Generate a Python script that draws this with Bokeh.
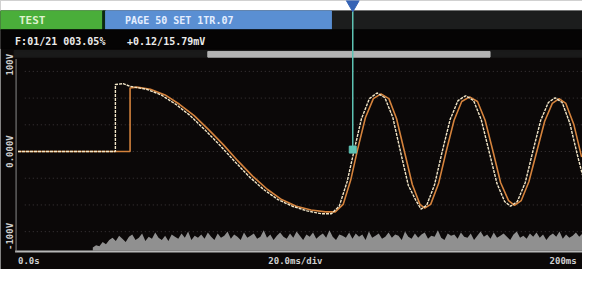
import numpy as np
from math import pi
from bokeh.plotting import figure
from bokeh.models import Range1d, Label
from bokeh.embed import file_html
from bokeh.resources import INLINE

# ---------------- data ----------------
white_t = [0, 34.5, 34.5, 37.2, 39.7, 45.5, 50.7, 55.9, 61.0, 66.2, 71.4, 76.6, 81.7, 86.9,
           92.1, 97.2, 102.4, 107.6, 111.0, 113.8, 116.6, 119.0, 121.7, 124.5, 127.2, 130.0,
           132.8, 135.5, 138.3, 141.0, 142.8, 144.8, 147.6, 150.3, 153.1, 155.9, 158.6, 161.4,
           164.1, 166.9, 169.7, 172.4, 174.5, 176.9, 179.7, 182.4, 185.2, 187.9, 190.3, 192.8,
           195.5, 198.3, 200.0]
white_v = [0, 0, 62.7, 63.6, 61.0, 58.3, 53.0, 44.2, 33.6, 20.3, 6.2, -8.8, -23.0, -35.3,
           -45.0, -51.2, -55.6, -58.3, -58.3, -51.2, -28.3, 0, 30.9, 49.5, 54.8, 50.3,
           31.8, 0, -31.8, -45.9, -53.9, -50.3, -30.9, 0, 30.0, 47.7, 52.2, 47.7,
           30.0, 0, -30.0, -46.8, -51.2, -46.8, -29.2, 0, 29.2, 45.9, 50.3, 45.9,
           26.5, -4.4, -22.0]

orange_t = [0, 39.7, 39.7, 42.1, 46.9, 52.1, 57.2, 62.4, 67.6, 72.8, 77.9, 83.1, 88.3,
            93.4, 98.6, 103.8, 109.0, 112.4, 115.2, 117.9, 120.3, 123.1, 125.9, 128.6,
            131.4, 134.1, 136.9, 139.7, 142.4, 144.1, 146.2, 149.0, 151.7, 154.5, 157.2,
            160.0, 162.8, 165.5, 168.3, 171.0, 173.8, 175.9, 178.3, 181.0, 183.8, 186.6,
            189.3, 191.7, 194.1, 196.9, 199.7]
orange_v = [0, 0, 59.4, 60.3, 58.3, 53.0, 44.2, 33.6, 20.3, 6.2, -8.8, -23.0, -35.3,
            -45.0, -51.2, -54.8, -56.5, -56.5, -49.5, -26.5, 1.8, 31.8, 49.5, 53.9,
            49.5, 30.9, 0, -30.9, -49.5, -53.0, -49.5, -30.0, 0, 29.2, 46.8,
            51.2, 46.8, 29.2, 0, -29.2, -45.9, -50.3, -45.9, -28.3, 0, 28.3,
            45.0, 49.5, 45.0, 25.6, -5.3]

noise_h = [3, 5, 4, 8, 6, 10, 12, 9, 14, 11, 8, 13, 15, 10, 12, 16, 9, 13, 11, 17, 12, 10, 14,
           9, 15, 13, 11, 16, 12, 18, 10, 14, 12, 15, 11, 17, 13, 10, 16, 12, 14, 18, 11, 15,
           13, 10, 17, 12, 14, 16, 11, 13, 19, 12, 15, 10, 14, 17, 13, 11, 16, 12, 18, 14, 10,
           15, 13, 17, 11, 14, 16, 12, 19, 13, 10, 15, 14, 12, 17, 11, 16, 13, 15, 10, 18, 12,
           14, 16, 11, 13, 17, 12, 15, 14, 10, 18, 13, 11, 16, 12, 15, 17, 11, 14, 13, 19, 12,
           10, 16, 14, 15, 11, 17, 13, 12, 16, 10, 14, 18, 13, 15, 11, 17, 12, 14, 16, 13, 10,
           15, 18, 12, 14, 11, 16, 13, 17, 12, 15, 10, 14, 16, 13, 18, 11, 15, 12, 14, 17, 13, 16]
noise_t_start, noise_t_end = 26.5, 200.0

grid_v = [-75, -50, -25, 0, 25, 50, 75]
cursor_t = 118.6
cursor_v = 1.8

title_text = "TEST"
page_text = "PAGE 50 SET 1TR.07"
status_left = "F:01/21 003.05%"
status_right = "+0.12/15.79mV"
y_labels = ["100V", "0.000V", "-100V"]
x_labels = ["0.0s", "20.0ms/div", "200ms"]

# ---------------- layout helpers ----------------
W, H = 582, 269
SX = W / 598.0
SY = H / 285.0


def fx(x):
    return x * SX


def fy(y):
    return y * SY


T_SPAN = 200.0
T0 = fx(18)
px_per_t = (fx(598) - T0) / T_SPAN
t_range = Range1d(-T0 / px_per_t, (W - T0) / px_per_t)
V_PER_REF_PX = 25.0 / 28.3
v_range = Range1d((160 - 285) * V_PER_REF_PX, 160 * V_PER_REF_PX)


def vref(y):
    return (160 - y) * V_PER_REF_PX


BG = "#0b0808"
p = figure(width=W, height=H, x_range=Range1d(0, W), y_range=Range1d(H, 0),
           output_backend="svg", toolbar_location=None, min_border=0,
           x_axis_location=None, y_axis_location=None,
           background_fill_color=BG, border_fill_color=BG, outline_line_color=None)
p.grid.visible = False
p.extra_x_ranges = {"t": t_range}
p.extra_y_ranges = {"v": v_range}

# header / screen chrome
p.quad(left=0, right=W, top=0, bottom=fy(11), color="white")
p.quad(left=0, right=W, top=fy(11), bottom=fy(31), color="#1c1d1d")
p.quad(left=0, right=fx(105), top=fy(11), bottom=fy(31), color="#4aae3a")
p.quad(left=fx(105), right=fx(108), top=fy(11), bottom=fy(31), color="#0d2a12")
p.quad(left=fx(108), right=fx(340), top=fy(11), bottom=fy(31), color="#5a8fd3")
p.quad(left=0, right=W, top=fy(31), bottom=fy(51), color="#050404")
p.quad(left=fx(14), right=W, top=fy(53), bottom=fy(60), color="#1a1a1a")
p.quad(left=fx(213), right=fx(503), top=fy(54), bottom=fy(60), color="#b4b4b4")

mono = "DejaVu Sans Mono"
p.add_layout(Label(x=fx(19), y=fy(21), text=title_text, text_font=mono, text_font_style="bold",
                   text_font_size="11px", text_color="#dff2cf", text_baseline="middle"))
p.add_layout(Label(x=fx(128), y=fy(21), text=page_text, text_font=mono, text_font_style="bold",
                   text_font_size="10px", text_color="#e4eeff", text_baseline="middle"))
p.add_layout(Label(x=fx(15), y=fy(43), text=status_left, text_font=mono, text_font_style="bold",
                   text_font_size="10px", text_color="#ececec", text_baseline="middle"))
p.add_layout(Label(x=fx(130), y=fy(43), text=status_right, text_font=mono, text_font_style="bold",
                   text_font_size="10px", text_color="#ececec", text_baseline="middle"))

# grid
p.segment(x0=[2.4] * len(grid_v), x1=[T_SPAN] * len(grid_v), y0=grid_v, y1=grid_v,
          x_range_name="t", y_range_name="v", line_color="#3e383b", line_dash="1 3", line_width=1)

# noise band
base_v = vref(265)
noise_t = np.linspace(noise_t_start, noise_t_end, len(noise_h))
p.varea(x=noise_t, y1=[base_v] * len(noise_h), y2=[base_v + h for h in noise_h],
        x_range_name="t", y_range_name="v", fill_color="#a8a8a8", fill_alpha=0.85)

# frame lines
p.segment(x0=fx(15), y0=fy(266), x1=fx(598), y1=fy(266), line_color="#b8b8b8", line_width=2)
p.segment(x0=fx(16), y0=fy(62), x1=fx(16), y1=fy(266), line_color="#8a8a8a", line_width=1)

# traces
p.line(orange_t, orange_v, x_range_name="t", y_range_name="v", line_color="#d4823c", line_width=1.6)
p.line(white_t, white_v, x_range_name="t", y_range_name="v", line_color="#f2e6c8", line_width=1.4,
       line_dash="3 1")

# cursor
p.segment(x0=[cursor_t], x1=[cursor_t], y0=[vref(8)], y1=[cursor_v],
          x_range_name="t", y_range_name="v", line_color="#5ec3b4", line_width=1.5)
p.scatter([cursor_t], [cursor_v], marker="square", size=7, color="#5ec3b4",
          x_range_name="t", y_range_name="v")
p.scatter([cursor_t], [vref(4)], marker="inverted_triangle", size=13, color="#3563b5",
          x_range_name="t", y_range_name="v")

# axis texts
for txt, ry in zip(y_labels, [68, 160, 250]):
    p.add_layout(Label(x=fx(10), y=fy(ry), text=txt, angle=pi / 2, text_align="center",
                       text_baseline="middle", text_font=mono, text_font_style="bold",
                       text_font_size="9px", text_color="#d0d0d0"))
for txt, rx, al in zip(x_labels, [18, 303, 592], ["left", "center", "right"]):
    p.add_layout(Label(x=fx(rx), y=fy(276), text=txt, text_align=al, text_baseline="middle",
                       text_font=mono, text_font_style="bold", text_font_size="9px",
                       text_color="#d0d0d0"))

open("out.html", "w").write(file_html(p, INLINE))
